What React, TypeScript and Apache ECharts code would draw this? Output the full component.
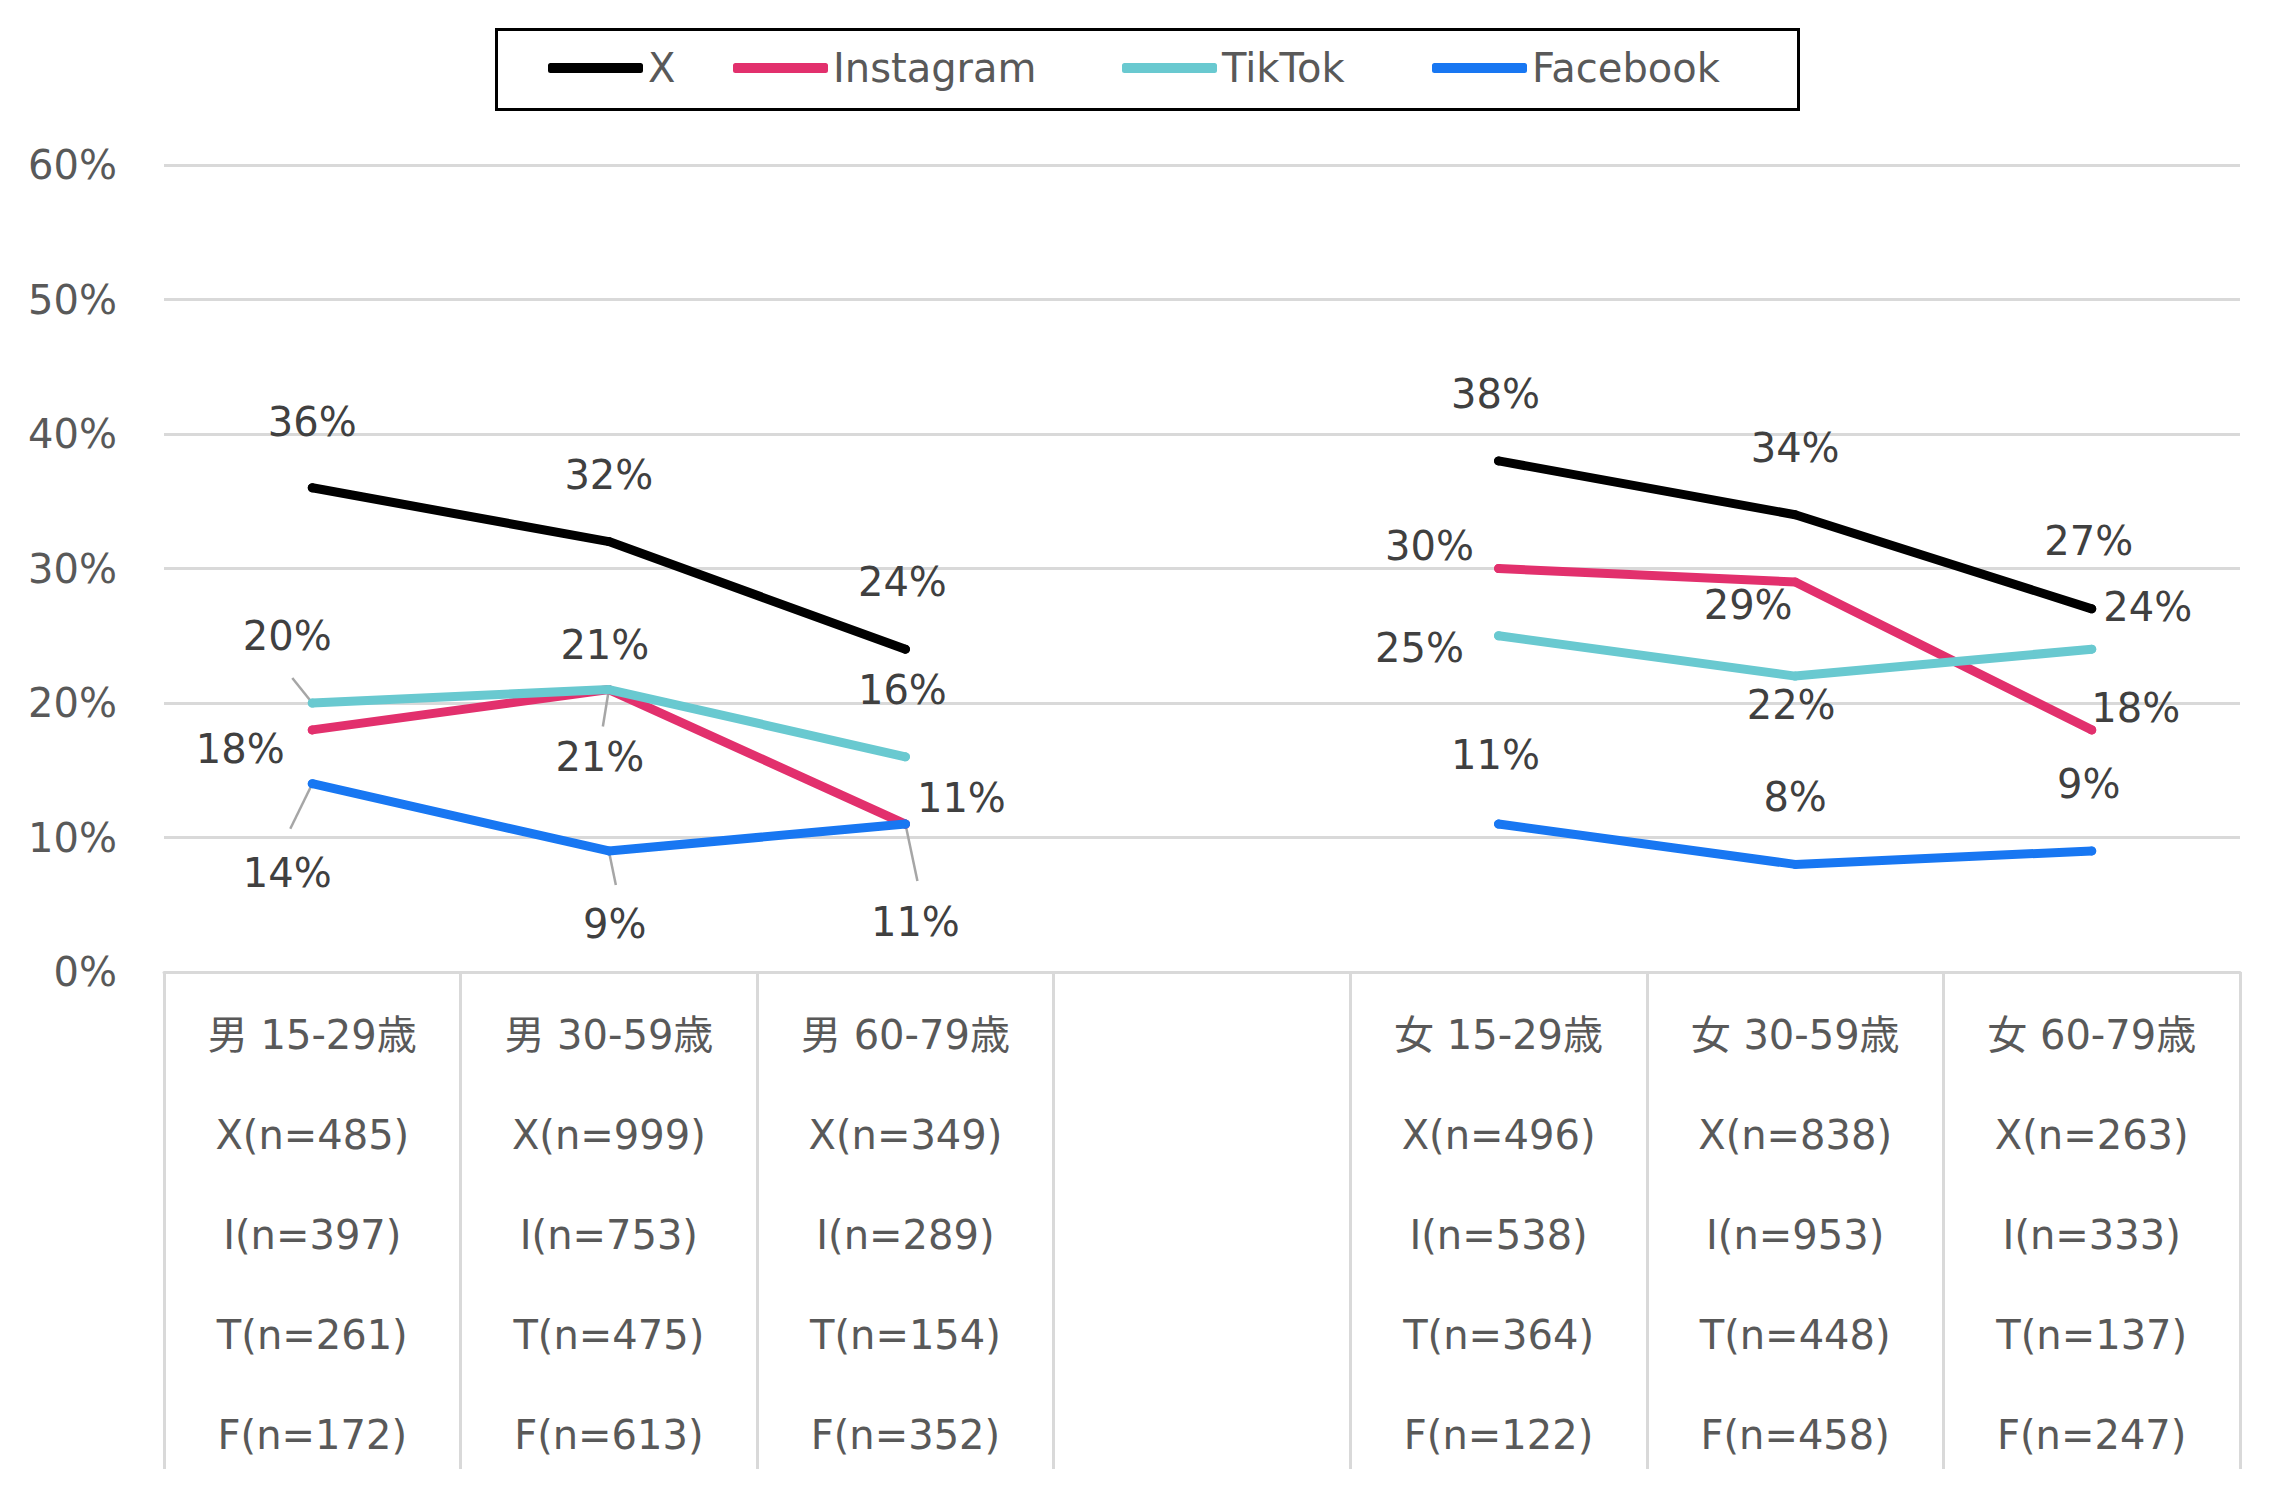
import React, { useEffect, useRef } from "react";
import * as echarts from "echarts";

const categories = ["男 15-29歳", "男 30-59歳", "男 60-79歳", "", "女 15-29歳", "女 30-59歳", "女 60-79歳"];
const seriesNames = ["X", "Instagram", "TikTok", "Facebook"];

const xValues = [36, 32, 24, null, 38, 34, 27];
const instagramValues = [18, 21, 11, null, 30, 29, 18];
const tiktokValues = [20, 21, 16, null, 25, 22, 24];
const facebookValues = [14, 9, 11, null, 11, 8, 9];

const nX = [485, 999, 349, null, 496, 838, 263];
const nI = [397, 753, 289, null, 538, 953, 333];
const nT = [261, 475, 154, null, 364, 448, 137];
const nF = [172, 613, 352, null, 122, 458, 247];

const yTicks = { min: 0, max: 60, interval: 10 };

// layout: label offsets (px) per series / category
const labelOffsets = [
  [[0, -66], [0, -67], [-3, -67], null, [-3, -67], [0, -67], [-3, -68]],
  [[-72, 19], [-9, 67], [56, -26], null, [-69, -23], [-47, 23], [44, -22]],
  [[-25, -67], [-4, -45], [-3, -67], null, [-79, 12], [-4, 29], [56, -42]],
  [[-25, 89], [6, 73], [10, 98], null, [-3, -69], [0, -67], [-3, -67]],
];
// layout: leader line end offsets (px) from the point, per series / category
const leaderEnds = [
  [null, null, null, null, null, null, null],
  [null, [-6, 37], null, null, null, null, null],
  [[-20, -25], null, null, null, null, null, null],
  [[-22, 45], [7, 34], [12, 57], null, null, null, null],
];

const colors = ["#000000", "#E2306D", "#69C9D0", "#1877F2"];
const FONT = "'DejaVu Sans', 'Noto Sans CJK JP', sans-serif";

export default function App() {
  const ref = useRef<HTMLDivElement>(null);
  useEffect(() => {
    const chart = echarts.init(ref.current!, null, { renderer: "svg" });
    const allValues = [xValues, instagramValues, tiktokValues, facebookValues];
    const legendLefts = [548, 733, 1122, 1432];

    const series = allValues.map((vals, si) => ({
      name: seriesNames[si],
      type: "line",
      z: 2 + si,
      data: vals.map((v, i) =>
        v === null ? null : { value: v, label: { offset: labelOffsets[si][i] } }
      ),
      connectNulls: false,
      symbol: "circle",
      symbolSize: 9,
      color: colors[si],
      itemStyle: { color: colors[si] },
      lineStyle: { color: colors[si], width: 9, cap: "round", join: "round" },
      label: {
        show: true,
        position: "inside",
        formatter: "{c}%",
        fontSize: 40,
        fontFamily: FONT,
        color: "#404040",
      },
      emphasis: { disabled: true },
    }));

    chart.setOption({
      animation: false,
      backgroundColor: "#ffffff",
      textStyle: { fontFamily: FONT },
      legend: seriesNames.map((n, i) => ({
        data: [n],
        left: legendLefts[i],
        top: 48,
        padding: 0,
        icon: "roundRect",
        itemWidth: 95,
        itemHeight: 10,
        textStyle: { fontSize: 40, color: "#595959", fontFamily: FONT, padding: [4, 0, 0, 0] },
        selectedMode: false,
      })),
      grid: { left: 164, right: 40, top: 165, height: 807, containLabel: false },
      xAxis: {
        type: "category",
        data: categories,
        boundaryGap: true,
        axisLine: { show: true, lineStyle: { color: "#D9D9D9", width: 3 } },
        axisTick: {
          show: true,
          interval: 0,
          length: 497,
          lineStyle: { color: "#D9D9D9", width: 3 },
        },
        axisLabel: {
          interval: 0,
          margin: 13,
          fontSize: 40,
          lineHeight: 100,
          color: "#595959",
          fontFamily: FONT,
          formatter: (value: string, index: number) =>
            value === ""
              ? ""
              : [
                  value,
                  `X(n=${nX[index]})`,
                  `I(n=${nI[index]})`,
                  `T(n=${nT[index]})`,
                  `F(n=${nF[index]})`,
                ].join("\n"),
          verticalAlign: "top",
        },
        splitLine: { show: false },
      },
      yAxis: {
        type: "value",
        min: yTicks.min,
        max: yTicks.max,
        interval: yTicks.interval,
        axisLine: { show: false },
        axisTick: { show: false },
        axisLabel: {
          formatter: "{value}%",
          fontSize: 40,
          color: "#595959",
          fontFamily: FONT,
          margin: 47,
        },
        splitLine: { lineStyle: { color: "#D9D9D9", width: 3 } },
      },
      series,
    });

    // leader lines computed through the chart's own scales
    const graphics: any[] = [
      {
        type: "rect",
        left: 494,
        top: 27,
        shape: { width: 1302, height: 80 },
        style: { fill: "none", stroke: "#000000", lineWidth: 3 },
        silent: true,
      },
    ];
    allValues.forEach((vals, si) => {
      vals.forEach((v, i) => {
        const end = leaderEnds[si][i];
        if (v === null || !end) return;
        const p = chart.convertToPixel({ gridIndex: 0 }, [categories[i] === "" ? i : i, v]) as number[];
        graphics.push({
          type: "line",
          silent: true,
          z: 1,
          shape: { x1: p[0], y1: p[1], x2: p[0] + end[0], y2: p[1] + end[1] },
          style: { stroke: "#A6A6A6", lineWidth: 2.5 },
        });
      });
    });
    chart.setOption({ graphic: graphics });
    return () => chart.dispose();
  }, []);
  return (
    <div
      ref={ref}
      style={{ position: "fixed", left: 0, top: 0, width: 2280, height: 1489 }}
    />
  );
}
